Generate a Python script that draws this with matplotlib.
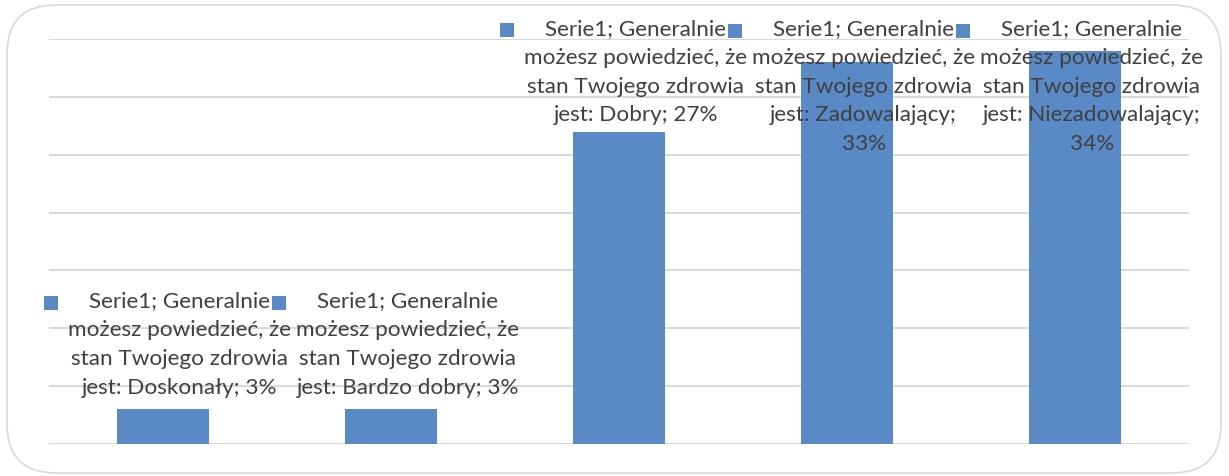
import matplotlib
matplotlib.use("Agg")
import matplotlib.pyplot as plt
from matplotlib.patches import FancyBboxPatch, Rectangle

# ── data ───────────────────────────────────────────────────────────────────────
series_name = "Serie1"
categories = ["Doskonały", "Bardzo dobry", "Dobry", "Zadowalający", "Niezadowalający"]
values = [3, 3, 27, 33, 34]  # percent

BAR_COLOR = "#5a8ac6"
GRID_COLOR = "#d9d9d9"
TEXT_COLOR = "#404040"

plt.rcParams["font.family"] = ["Lato", "DejaVu Sans"]

W, H, DPI = 1229, 477, 100
fig = plt.figure(figsize=(W / DPI, H / DPI), dpi=DPI)
fig.patch.set_facecolor("white")

# rounded chart border
fig.patches.append(FancyBboxPatch(
    (7 / W, 3 / H), (W - 8 - 7) / W, (H - 6 - 3) / H,
    boxstyle="round,pad=0,rounding_size=0.04", transform=fig.transFigure,
    facecolor="none", edgecolor=GRID_COLOR, linewidth=1.2, mutation_aspect=W / H))

ax = fig.add_axes([49 / W, 32 / H, 1140 / W, 405 / H])
x = list(range(len(categories)))
ax.bar(x, values, width=0.4, color=BAR_COLOR, zorder=3)
ax.set_xlim(-0.5, len(categories) - 0.5)
ax.set_ylim(0, 35)
ax.set_yticks(range(0, 36, 5))
ax.yaxis.grid(True, color=GRID_COLOR, linewidth=1.5, zorder=0)
ax.tick_params(left=False, bottom=False, labelleft=False, labelbottom=False)
for s in ax.spines.values():
    s.set_visible(False)

# data labels with legend keys
labels = []
for xi, cat, v in zip(x, categories, values):
    last = f"jest: {cat}; {v}%"
    if len(last) > 22:
        last = f"jest: {cat};\n{v}%"
    txt = f"{series_name}; Generalnie\nmożesz powiedzieć, że\nstan Twojego zdrowia\n{last}"
    t = ax.annotate(txt, (xi, v), xytext=(12, 9), textcoords="offset points",
                    ha="center", va="bottom", fontsize=16.2, color=TEXT_COLOR,
                    linespacing=1.55, zorder=4, annotation_clip=False)
    labels.append(t)

# labels that would leave the chart are pushed down under the top edge
fig.canvas.draw()
renderer = fig.canvas.get_renderer()
top_limit = H - 19
for t in labels:
    bb = t.get_window_extent(renderer)
    if bb.y1 > top_limit:
        t.set_position((t.xyann[0], t.xyann[1] - (bb.y1 - top_limit) * 72 / DPI))
fig.canvas.draw()
for t in labels:
    bb = t.get_window_extent(renderer)
    line_h = bb.height / (t.get_text().count("\n") + 1)
    cy = bb.y1 - line_h / 2 + 1
    fig.patches.append(Rectangle(((bb.x0 - 24) / W, (cy - 7) / H), 14 / W, 14 / H,
                                 transform=fig.transFigure, facecolor=BAR_COLOR,
                                 edgecolor="none", zorder=5))

fig.savefig("out.png", dpi=DPI, facecolor="white")
